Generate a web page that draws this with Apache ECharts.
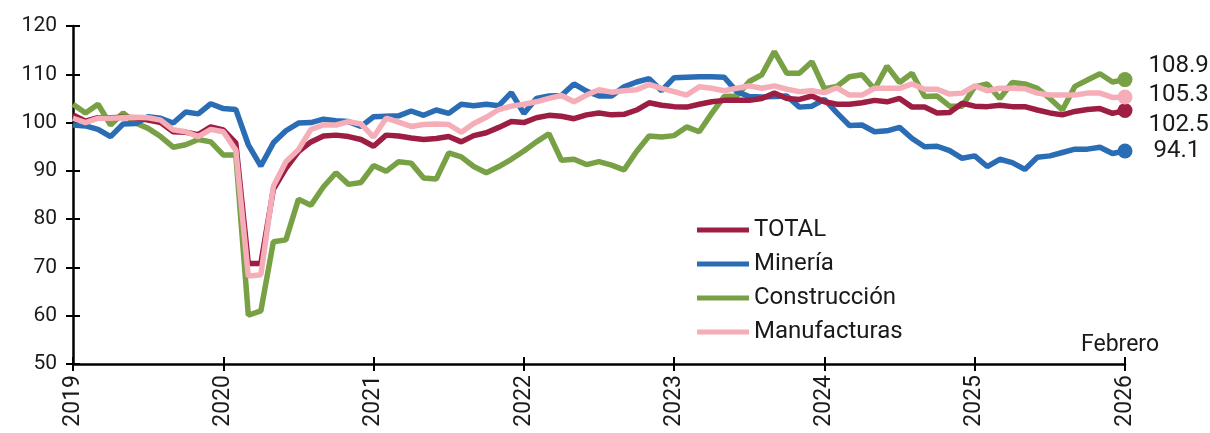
<!DOCTYPE html>
<html>
<head>
<meta charset="utf-8">
<script src="https://cdn.jsdelivr.net/npm/echarts@6/dist/echarts.min.js"></script>
<style>
  html, body { margin: 0; padding: 0; background: #fff; }
  #chart { width: 1210px; height: 433px; }
</style>
</head>
<body>
<div id="chart"></div>
<script>
// months from Jan 2019 to Jan 2026 (85 points); the axis shows only the year
var years = ['2019', '2020', '2021', '2022', '2023', '2024', '2025', '2026'];
var months = [];
years.forEach(function (y, i) {
    for (var m = 1; m <= 12; m++) {
        if (i === years.length - 1 && m > 1) break;
        months.push(y + '-' + (m < 10 ? '0' + m : m));
    }
});

var total = [101.6, 100.3, 101.0, 101.0, 101.1, 101.0, 100.5, 100.0, 98.1, 98.0, 97.5, 99.1,
    98.5, 95.8, 70.8, 70.8, 86.2, 90.5, 94.0, 96.0, 97.2, 97.4, 97.1, 96.5,
    95.1, 97.4, 97.2, 96.8, 96.5, 96.7, 97.1, 96.0, 97.3, 97.9, 99.0, 100.2,
    100.0, 101.0, 101.5, 101.3, 100.8, 101.6, 102.0, 101.6, 101.7, 102.6, 104.1, 103.6,
    103.3, 103.2, 103.8, 104.3, 104.6, 104.6, 104.6, 105.0, 106.1, 105.0, 104.8, 105.5,
    104.3, 103.8, 103.8, 104.1, 104.6, 104.3, 105.0, 103.2, 103.2, 102.0, 102.1, 104.0,
    103.4, 103.3, 103.6, 103.3, 103.3, 102.6, 102.0, 101.6, 102.3, 102.7, 102.9, 101.9,
    102.5];

var mineria = [99.5, 99.3, 98.6, 97.1, 99.7, 99.8, 101.2, 100.9, 99.9, 102.2, 101.8, 103.9,
    102.9, 102.7, 95.4, 91.0, 95.8, 98.3, 99.9, 100.0, 100.7, 100.4, 100.2, 99.2,
    101.2, 101.3, 101.4, 102.4, 101.5, 102.6, 101.9, 103.8, 103.5, 103.8, 103.5, 106.2,
    101.9, 105.0, 105.5, 105.6, 108.0, 106.5, 105.5, 105.5, 107.4, 108.4, 109.1, 106.6,
    109.3, 109.4, 109.5, 109.5, 109.4, 106.4, 105.4, 105.3, 105.4, 105.5, 103.2, 103.4,
    104.8, 102.0, 99.4, 99.5, 98.1, 98.3, 99.0, 96.7, 95.0, 95.1, 94.2, 92.6,
    93.1, 90.9, 92.4, 91.7, 90.3, 92.8, 93.1, 93.8, 94.5, 94.5, 94.9, 93.6,
    94.1];

var construccion = [103.8, 102.0, 103.8, 99.5, 102.0, 99.9, 98.8, 97.1, 94.9, 95.4, 96.5, 96.0,
    93.3, 93.3, 60.1, 61.0, 75.3, 75.7, 84.1, 82.9, 86.7, 89.6, 87.2, 87.6,
    91.1, 89.9, 91.9, 91.6, 88.5, 88.3, 93.7, 92.9, 90.9, 89.6, 90.9, 92.4,
    94.1, 96.0, 97.7, 92.2, 92.4, 91.3, 91.9, 91.2, 90.2, 94.0, 97.2, 97.0,
    97.3, 99.1, 98.1, 101.9, 105.4, 105.5, 108.5, 109.9, 114.7, 110.2, 110.2, 112.6,
    107.0, 107.5, 109.5, 109.9, 106.9, 111.7, 108.3, 110.2, 105.4, 105.5, 103.4, 103.4,
    107.4, 108.0, 105.0, 108.3, 108.0, 107.1, 105.0, 102.6, 107.5, 108.8, 110.1, 108.4,
    108.9];

var manufacturas = [100.9, 100.0, 100.9, 100.9, 101.0, 101.1, 101.0, 100.5, 98.5, 98.1, 97.1, 98.6,
    98.1, 94.3, 68.2, 68.5, 86.8, 91.9, 94.4, 98.6, 99.5, 99.5, 100.2, 99.7,
    97.0, 100.9, 100.1, 99.2, 99.6, 99.7, 99.6, 98.0, 99.8, 101.1, 102.7, 103.4,
    103.8, 104.3, 105.0, 105.6, 104.3, 105.7, 106.8, 106.3, 106.6, 106.8, 107.9, 107.1,
    106.4, 105.7, 107.4, 107.1, 106.6, 107.1, 107.6, 107.1, 107.6, 106.9, 106.4, 106.6,
    106.2, 107.2, 105.7, 105.7, 107.1, 107.1, 107.1, 108.0, 106.9, 106.9, 105.9, 106.1,
    107.6, 106.6, 107.1, 107.1, 107.0, 106.1, 105.7, 105.7, 105.7, 106.1, 106.1, 105.2,
    105.3];

var yTicks = { min: 50, max: 120, interval: 10 };

var fontFam = 'Roboto, "Noto Sans", sans-serif';
var ink = '#1a1a1a';

function line(name, data, color, labelDy, labelDx) {
    var last = data.length - 1;
    return {
        name: name,
        type: 'line',
        data: data,
        showSymbol: false,
        symbol: 'none',
        lineStyle: { color: color, width: 5.5 },
        itemStyle: { color: color },
        emphasis: { disabled: true },
        markPoint: {
            symbol: 'circle',
            symbolSize: 15,
            itemStyle: { color: color },
            label: {
                show: true,
                position: 'right',
                distance: 16,
                offset: [labelDx || 0, labelDy],
                color: ink,
                fontSize: 24,
                fontFamily: fontFam,
                formatter: function (p) { return p.value.toFixed(1); }
            },
            data: [{ coord: [months[last], data[last]], value: data[last] }]
        }
    };
}

var myChart = echarts.init(document.getElementById('chart'));
var option = {
    animation: false,
    backgroundColor: '#fff',
    grid: { left: 73, right: 85, top: 26, bottom: 69 },
    legend: {
        orient: 'vertical',
        left: 692,
        top: 213,
        itemWidth: 52,
        itemHeight: 5,
        itemGap: 10,
        icon: 'rect',
        data: ['TOTAL', 'Minería', 'Construcción', 'Manufacturas'],
        textStyle: { color: ink, fontSize: 24, lineHeight: 24, fontFamily: fontFam }
    },
    xAxis: [{
        type: 'category',
        data: months,
        boundaryGap: false,
        axisLine: { lineStyle: { color: '#000', width: 2.5 } },
        axisTick: { interval: 11, length: 7, lineStyle: { color: '#000', width: 2 } },
        axisLabel: {
            interval: 11,
            rotate: 90,
            margin: 11,
            color: ink,
            fontSize: 23,
            fontFamily: fontFam,
            formatter: function (v) { return v.slice(0, 4); }
        },
        splitLine: { show: false }
    }, {
        type: 'category',
        data: months,
        boundaryGap: false,
        position: 'bottom',
        axisLine: { show: false },
        axisTick: { inside: true, interval: 11, length: 7, lineStyle: { color: '#000', width: 2 } },
        axisLabel: { show: false },
        splitLine: { show: false }
    }],
    yAxis: [{
        type: 'value',
        min: yTicks.min,
        max: yTicks.max,
        interval: yTicks.interval,
        axisLine: { show: true, lineStyle: { color: '#000', width: 2.5 } },
        axisTick: { show: true, length: 7, lineStyle: { color: '#000', width: 2 } },
        axisLabel: { margin: 16, color: ink, fontSize: 21, fontFamily: fontFam },
        splitLine: { show: false }
    }, {
        type: 'value',
        min: yTicks.min,
        max: yTicks.max,
        interval: yTicks.interval,
        position: 'left',
        axisLine: { show: false },
        axisTick: { show: true, inside: true, length: 7, lineStyle: { color: '#000', width: 2 } },
        axisLabel: { show: false },
        splitLine: { show: false }
    }],
    graphic: [{
        type: 'text',
        left: 1081,
        top: 334,
        style: { text: 'Febrero', fill: ink, fontSize: 23, fontFamily: fontFam }
    }],
    series: [
        line('Construcción', construccion, '#78A045', -14, 0),
        line('Minería', mineria, '#2A6DB5', 0, 5),
        line('TOTAL', total, '#9E1D42', 14, 0),
        line('Manufacturas', manufacturas, '#F5AEB8', -2, 0)
    ]
};
myChart.setOption(option);
</script>
</body>
</html>
